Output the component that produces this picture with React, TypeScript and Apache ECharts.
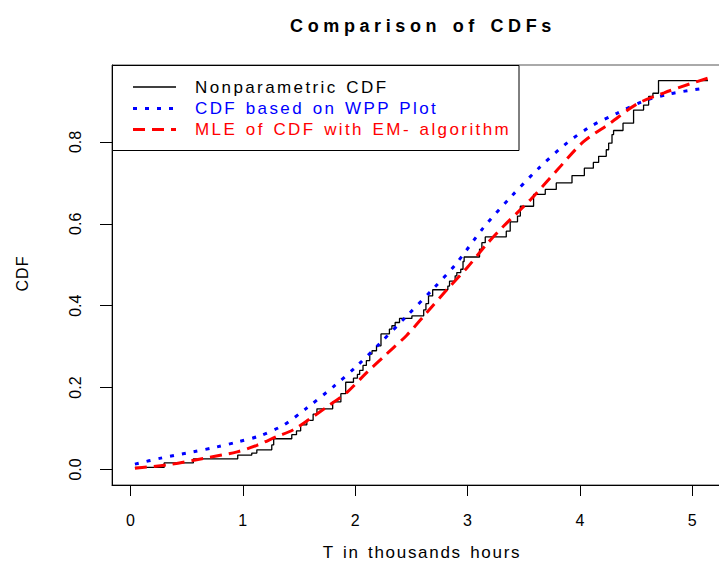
import React, { useEffect, useRef } from "react";
import * as echarts from "echarts";

// Nonparametric CDF (step function): jump times (thousand hours) and level after jump
const ecdfT = [0.04, 0.30, 0.56, 0.955, 1.08, 1.125, 1.258, 1.275, 1.436, 1.478, 1.515, 1.57, 1.626, 1.66, 1.80, 1.873, 1.916, 1.985, 2.02, 2.04, 2.07, 2.10, 2.13, 2.15, 2.19, 2.23, 2.305, 2.327, 2.356, 2.395, 2.505, 2.61, 2.63, 2.653, 2.69, 2.825, 2.84, 2.89, 2.905, 2.94, 2.96, 2.97, 3.107, 3.128, 3.158, 3.345, 3.38, 3.445, 3.47, 3.588, 3.692, 3.79, 3.93, 4.04, 4.12, 4.167, 4.235, 4.256, 4.286, 4.30, 4.384, 4.478, 4.567, 4.612, 4.65, 4.70, 5.14];
const ecdfF = [0.005, 0.016, 0.026, 0.035, 0.040, 0.048, 0.060, 0.075, 0.085, 0.094, 0.109, 0.120, 0.135, 0.148, 0.165, 0.185, 0.213, 0.223, 0.232, 0.242, 0.254, 0.266, 0.282, 0.290, 0.302, 0.331, 0.343, 0.351, 0.359, 0.369, 0.375, 0.390, 0.405, 0.424, 0.439, 0.448, 0.460, 0.473, 0.481, 0.489, 0.508, 0.519, 0.538, 0.554, 0.568, 0.582, 0.605, 0.619, 0.643, 0.672, 0.684, 0.700, 0.718, 0.736, 0.750, 0.765, 0.781, 0.797, 0.818, 0.828, 0.846, 0.878, 0.890, 0.911, 0.919, 0.950, 0.950];

// CDF based on WPP plot
const wppT = [0.04, 0.26, 0.56, 0.77, 0.95, 1.15, 1.36, 1.56, 1.81, 2.02, 2.22, 2.46, 2.70, 2.90, 3.14, 3.38, 3.62, 3.86, 4.09, 4.33, 4.57, 4.81, 5.10];
const wppF = [0.013, 0.027, 0.043, 0.055, 0.067, 0.082, 0.108, 0.148, 0.203, 0.254, 0.308, 0.375, 0.443, 0.503, 0.590, 0.664, 0.732, 0.792, 0.837, 0.870, 0.900, 0.918, 0.931];

// MLE of CDF with EM algorithm
const mleT = [0.04, 0.35, 0.65, 0.95, 1.125, 1.30, 1.45, 1.60, 1.75, 1.93, 2.10, 2.28, 2.46, 2.64, 2.82, 3.00, 3.17, 3.32, 3.56, 3.80, 4.03, 4.27, 4.51, 4.75, 4.98, 5.14];
const mleF = [0.003, 0.012, 0.027, 0.043, 0.059, 0.080, 0.097, 0.124, 0.153, 0.189, 0.236, 0.282, 0.328, 0.384, 0.440, 0.494, 0.550, 0.594, 0.659, 0.732, 0.800, 0.846, 0.893, 0.920, 0.942, 0.956];

const xTicks = [0, 1, 2, 3, 4, 5];
const yTicks = [0, 0.2, 0.4, 0.6, 0.8];

const legendLabels = ["Nonparametric CDF", "CDF based on WPP Plot", "MLE of CDF with EM- algorithm"];
const legendColors = ["#000000", "#0000FF", "#FF0000"];

const FONT = "'Liberation Sans', Arial, Helvetica, sans-serif";

const spacing: Record<string, [number, number]> = {
  "Comparison of CDFs": [4.6, 2],
  "T in thousands hours": [1.7, 2],
  "CDF": [1, 0],
  "Nonparametric CDF": [2.4, 1.5],
  "CDF based on WPP Plot": [2.4, 1.5],
  "MLE of CDF with EM- algorithm": [2.4, 1.5],
};

export default function App() {
  const ref = useRef<HTMLDivElement>(null);
  useEffect(() => {
    if (!ref.current) return;
    const chart = echarts.init(ref.current, null, { renderer: "svg" });
    const pairs = (t: number[], f: number[]) => t.map((v, i) => [v, f[i]]);
    const legendRows = [87, 108.5, 129.5];
    const dashTypes: any[] = ["solid", [4, 8], [12, 7]];
    const dashWidths = [1.4, 3, 3];
    const graphics: any[] = [
      {
        type: "rect",
        shape: { x: 112.5, y: 65.5, width: 406.5, height: 85 },
        style: { fill: "#fff", stroke: "#000", lineWidth: 1 },
        z: 100,
      },
    ];
    legendLabels.forEach((lab, i) => {
      graphics.push({
        type: "line",
        shape: { x1: 133, y1: legendRows[i], x2: 176, y2: legendRows[i] },
        style: { stroke: legendColors[i], lineWidth: dashWidths[i], lineDash: dashTypes[i] === "solid" ? null : dashTypes[i] },
        z: 101,
      });
      graphics.push({
        type: "text",
        x: 195,
        y: legendRows[i],
        style: { text: lab, fill: legendColors[i], font: `17px ${FONT}`, textVerticalAlign: "middle", verticalAlign: "middle" },
        z: 101,
      });
    });
    chart.setOption({
      animation: false,
      backgroundColor: "#fff",
      title: {
        text: "Comparison of CDFs",
        left: 418,
        top: 12,
        textAlign: "center",
        textStyle: { fontFamily: FONT, fontSize: 18, fontWeight: "bold", color: "#000" },
      },
      grid: { left: 112, top: 65, width: 620, height: 420, show: true, borderColor: "#555", borderWidth: 1, outerBoundsMode: "none" },
      xAxis: {
        type: "value",
        min: -0.164,
        max: 5.354,
        name: "T in thousands hours",
        nameLocation: "middle",
        nameGap: 59,
        nameTextStyle: { fontFamily: FONT, fontSize: 17, color: "#000" },
        axisLine: { show: true, onZero: false, lineStyle: { color: "#000", width: 1 } },
        axisTick: { show: true, length: 11, customValues: xTicks, lineStyle: { color: "#000" } },
        axisLabel: { customValues: xTicks, margin: 27, fontFamily: FONT, fontSize: 16, color: "#000", formatter: (v: number) => String(v) },
        splitLine: { show: false },
      },
      yAxis: {
        type: "value",
        min: -0.038,
        max: 0.988,
        name: "CDF",
        nameLocation: "middle",
        nameGap: 82,
        nameTextStyle: { fontFamily: FONT, fontSize: 16, color: "#000", padding: [0, 0, 0, 3] },
        axisLine: { show: true, onZero: false, lineStyle: { color: "#000", width: 1 } },
        axisTick: { show: true, length: 12, customValues: yTicks, lineStyle: { color: "#000" } },
        axisLabel: { customValues: yTicks, rotate: 90, margin: 29, fontFamily: FONT, fontSize: 16, color: "#000", formatter: (v: number) => v.toFixed(1) },
        splitLine: { show: false },
      },
      series: [
        {
          name: legendLabels[0],
          type: "line",
          step: "end",
          data: pairs(ecdfT, ecdfF),
          symbol: "none",
          lineStyle: { color: "#000", width: 1.3 },
          z: 2,
        },
        {
          name: legendLabels[1],
          type: "line",
          smooth: 0.3,
          data: pairs(wppT, wppF),
          symbol: "none",
          lineStyle: { color: "#0000FF", width: 3, type: [4, 8], cap: "butt" },
          z: 3,
        },
        {
          name: legendLabels[2],
          type: "line",
          smooth: 0.3,
          data: pairs(mleT, mleF),
          symbol: "none",
          lineStyle: { color: "#FF0000", width: 3, type: [12, 7], cap: "butt" },
          z: 4,
        },
      ],
      graphic: graphics,
    });
    const applySpacing = () => {
      const texts = ref.current?.querySelectorAll("text");
      texts?.forEach((t) => {
        const s = spacing[t.textContent || ""];
        if (s) {
          t.setAttribute("letter-spacing", String(s[0]));
          t.setAttribute("word-spacing", String(s[1]));
        }
      });
    };
    applySpacing();
    chart.on("finished", applySpacing);
    return () => chart.dispose();
  }, []);
  return <div ref={ref} style={{ position: "fixed", left: 0, top: 0, width: 719, height: 567 }} />;
}
